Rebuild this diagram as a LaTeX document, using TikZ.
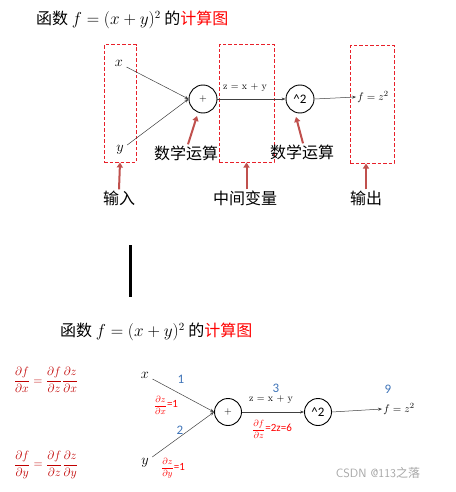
\documentclass[tikz,border=0pt]{standalone}
\usepackage{fontspec}
\usepackage{amsmath}
\usetikzlibrary{arrows.meta}
\newfontfamily\cjk{Noto Sans CJK SC}
\newfontfamily\calib{Carlito}
\definecolor{boxred}{HTML}{E8202A}
\definecolor{hintred}{HTML}{C0504D}
\definecolor{darkred}{HTML}{C00000}
\definecolor{numblue}{HTML}{3F74B8}
\newcommand{\gfrac}[2]{{\fontsize{9}{10}\selectfont$\dfrac{\partial #1}{\partial #2}$}}

\begin{document}
\begin{tikzpicture}[x=1pt,y=-1pt,
        title/.style={anchor=west,font=\fontsize{16}{18}\selectfont\cjk,inner sep=0pt},
        group/.style={draw=boxred,dash pattern=on 3.5pt off 2pt,line width=1pt,inner sep=0pt},
        op/.style={circle,draw,line width=0.9pt,inner sep=0pt},
        var/.style={font=\fontsize{14}{16}\selectfont},
        note/.style={font=\fontsize{16}{18}\selectfont\cjk,inner sep=1pt},
        hint/.style={draw=hintred,line width=2pt,-{Triangle[length=5pt,width=6pt]}},
        wire/.style={draw=black!75,line width=0.5pt,-{Stealth[length=4pt,width=3pt]}},
        num/.style={font=\fontsize{13}{15}\selectfont\calib,text=numblue},
        grad/.style={font=\fontsize{11}{12}\selectfont\calib,text=red,inner sep=0pt}]
    \useasboundingbox (0,0) rectangle (455,492);

    % computational graph, plain
    \node[title] (t1) at (36,20) {函数 $f=(x+y)^2$ 的\textcolor{red}{计算图}};
    \node[group,minimum width=32pt,minimum height=117pt] (in) at (120,103.5) {};
    \node[group,minimum width=55pt,minimum height=117pt] (mid) at (246.5,103.5) {};
    \node[group,minimum width=44pt,minimum height=117pt] (out) at (372,104.5) {};
    \node[var] (x1) at (119,63) {$x$};
    \node[var] (y1) at (120,150) {$y$};
    \node[op,minimum size=28pt] (plus1) at (203,99) {$+$};
    \node[op,minimum size=28pt] (sq1) at (300,99) {\fontsize{13}{15}\selectfont\calib\textasciicircum2};
    \node[font=\fontsize{11}{12}\selectfont,inner sep=1pt] (f1) at (373,97) {$f=z^2$};
    \node[font=\fontsize{10}{12}\selectfont,inner sep=1pt] (z1) at (245,88) {z = x + y};
    \draw[wire] ([yshift=-4pt]x1.east) -- (plus1.west);
    \draw[wire] ([yshift=5pt]y1.east) -- (plus1.west);
    \draw[wire] (plus1.east) -- (sq1.west);
    \draw[wire] (sq1.east) -- (f1.west);
    \node[note] (op1) at (186,153) {数学运算};
    \node[note] (op2) at (302,152) {数学运算};
    \draw[hint] ([xshift=2pt]op1.north) -- (197,116);
    \draw[hint] ([xshift=1pt]op2.north) -- (296,117);
    \node[note] (lin) at (119,198) {输入};
    \node[note] (lmid) at (245,198) {中间变量};
    \node[note] (lout) at (366,198) {输出};
    \draw[hint] (lin.north) -- (in.south);
    \draw[hint] (lmid.north -| mid.south) -- (mid.south);
    \draw[hint] (lout.north) -- (lout.north |- out.south);

    \fill (128.5,245) rectangle (131.5,297);

    % computational graph with gradients
    \node[title] (t2) at (60,332) {函数 $f=(x+y)^2$ 的\textcolor{red}{计算图}};
    \node[text=darkred,font=\fontsize{12.5}{15}\selectfont,inner sep=0pt] (dfdx) at (46,380)
        {$\dfrac{\partial f}{\partial x}=\dfrac{\partial f}{\partial z}\dfrac{\partial z}{\partial x}$};
    \node[text=darkred,font=\fontsize{12.5}{15}\selectfont,inner sep=0pt] (dfdy) at (46,465)
        {$\dfrac{\partial f}{\partial y}=\dfrac{\partial f}{\partial z}\dfrac{\partial z}{\partial y}$};
    \node[var] (x2) at (145,375) {$x$};
    \node[var] (y2) at (145,463) {$y$};
    \node[op,minimum size=27pt] (plus2) at (228,412) {$+$};
    \node[op,minimum size=27pt] (sq2) at (318,412) {\fontsize{13}{15}\selectfont\calib\textasciicircum2};
    \node[font=\fontsize{11}{12}\selectfont,inner sep=1pt] (f2) at (399,409) {$f=z^2$};
    \node[font=\fontsize{10}{12}\selectfont,inner sep=1pt] (z2) at (271,400) {z = x + y};
    \draw[wire] ([yshift=-4pt]x2.east) -- (plus2.west);
    \draw[wire] ([yshift=6pt]y2.east) -- (plus2.west);
    \draw[wire] (plus2.east) -- (sq2.west);
    \draw[wire] (sq2.east) -- (f2.west);
    \node[num] (n1) at (181,379) {1};
    \node[num] (n2) at (180,430) {2};
    \node[num] (n3) at (276,388) {3};
    \node[num] (n9) at (388,389) {9};
    \node[grad] (g1) at (166,405) {\gfrac{z}{x}=1};
    \node[grad] (g3) at (272,429) {\gfrac{f}{z}=2z=6};
    \node[grad] (g2) at (173,468) {\gfrac{z}{y}=1};
    \node[font=\fontsize{12}{14}\selectfont\sffamily,text=black!35] (mark) at (378,473) {CSDN @113{\cjk 之落}};
\end{tikzpicture}
\end{document}
